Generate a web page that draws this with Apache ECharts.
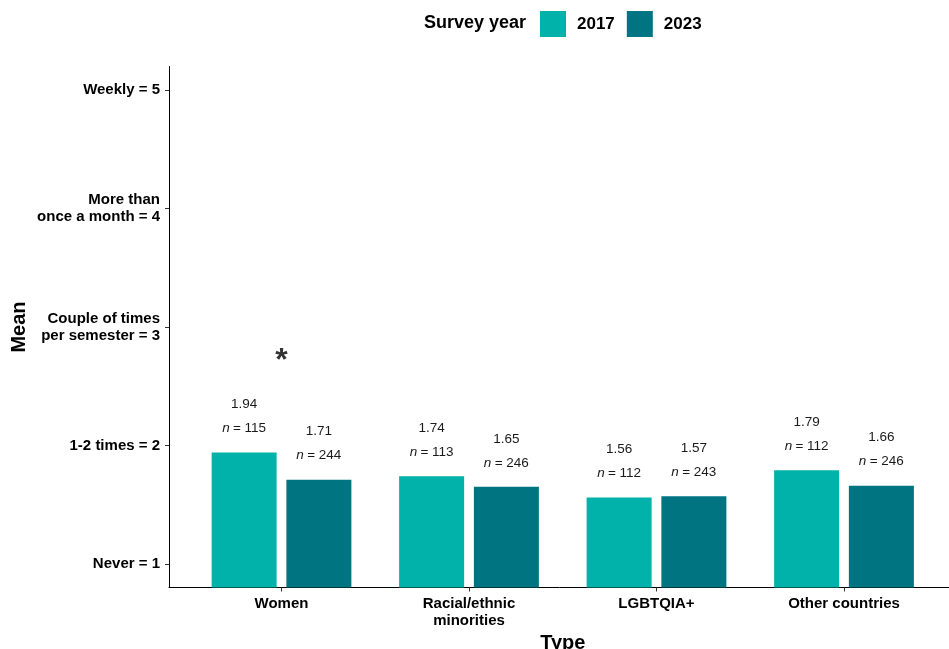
<!DOCTYPE html>
<html>
<head>
<meta charset="utf-8">
<script src="https://cdn.jsdelivr.net/npm/echarts@6/dist/echarts.min.js"></script>
<style>
  html, body { margin: 0; padding: 0; background: #fff; }
  #chart { width: 949px; height: 649px; }
</style>
</head>
<body>
<div id="chart"></div>
<script>
// Group categories along the x axis
const categories = ['Women', 'Racial/ethnic\nminorities', 'LGBTQIA+', 'Other countries'];
// Survey years shown in the legend
const years = ['2017', '2023'];
// Mean frequency per group
const means2017 = [1.94, 1.74, 1.56, 1.79];
const means2023 = [1.71, 1.65, 1.57, 1.66];
// Respondent counts per group
const counts2017 = [115, 113, 112, 112];
const counts2023 = [244, 246, 243, 246];
// Significance flags for the 2017 vs 2023 difference
const significance = ['*', '', '', ''];
// Y axis tick labels (response scale)
const yTickValues = [1, 2, 3, 4, 5];
const yTickLabels = ['Never = 1', '1-2 times = 2', 'Couple of times\nper semester = 3', 'More than\nonce a month = 4', 'Weekly = 5'];

const colors = ['#00B2A9', '#017482'];
const FONT = 'Liberation Sans, Arial, sans-serif';

function barSeries(name, means, counts, color) {
  const txt = { fontFamily: FONT, fontSize: 13.5, color: '#1a1a1a', lineHeight: 24 };
  return {
    name: name,
    type: 'bar',
    barWidth: 65,
    barGap: '15%',
    itemStyle: { color: color },
    data: means.map((v, i) => ({ value: [i, v], n: counts[i] })),
    label: {
      show: true,
      position: 'top',
      distance: 12,
      align: 'center',
      formatter: p => '{v|' + p.value[1].toFixed(2) + '}\n{i|n} {t|= ' + p.data.n + '}',
      rich: {
        v: txt,
        i: Object.assign({}, txt, { fontStyle: 'italic' }),
        t: txt
      }
    }
  };
}

// significance marker sits above the taller bar of each pair
const sigData = significance
  .map((s, i) => ({ s, i }))
  .filter(d => d.s)
  .map(d => ({ value: [d.i, Math.max(means2017[d.i], means2023[d.i]) + 0.77], mark: d.s }));

const chart = echarts.init(document.getElementById('chart'), null, { renderer: 'canvas' });
chart.setOption({
  animation: false,
  backgroundColor: '#fff',
  color: colors,
  textStyle: { fontFamily: FONT },
  title: {
    text: 'Survey year',
    left: 419,
    top: 9,
    textStyle: { fontFamily: FONT, fontSize: 18, fontWeight: 'bold', color: '#000' }
  },
  legend: {
    data: years,
    left: 535,
    top: 6,
    itemWidth: 26,
    itemHeight: 26,
    itemGap: 12,
    icon: 'rect',
    textStyle: { fontFamily: FONT, fontSize: 17, fontWeight: 'bold', color: '#000', padding: [0, 0, 0, 6] }
  },
  grid: { left: 169, right: -7.5, top: 66.5, bottom: 61.5, containLabel: false, outerBoundsMode: 'none' },
  xAxis: {
    type: 'value',
    min: -0.6,
    max: 3.6,
    name: 'Type',
    nameLocation: 'middle',
    nameGap: 46,
    nameMoveOverlap: false,
    nameTextStyle: { fontFamily: FONT, fontSize: 20, fontWeight: 'bold', color: '#000' },
    splitLine: { show: false },
    axisLine: { show: true, onZero: false, lineStyle: { color: '#000', width: 1 } },
    axisTick: { show: true, length: 4, customValues: [0, 1, 2, 3], lineStyle: { color: '#333' } },
    axisLabel: {
      customValues: [0, 1, 2, 3],
      formatter: v => categories[Math.round(v)],
      fontFamily: FONT, fontSize: 15, fontWeight: 'bold', color: '#000',
      margin: 8, lineHeight: 17
    }
  },
  yAxis: {
    type: 'value',
    min: 0.8,
    max: 5.2,
    name: 'Mean',
    nameLocation: 'middle',
    nameGap: 140,
    nameMoveOverlap: false,
    nameTextStyle: { fontFamily: FONT, fontSize: 20, fontWeight: 'bold', color: '#000' },
    splitLine: { show: false },
    axisLine: { show: true, onZero: false, lineStyle: { color: '#000', width: 1 } },
    axisTick: { show: true, length: 4, customValues: yTickValues, lineStyle: { color: '#333' } },
    axisLabel: {
      customValues: yTickValues,
      formatter: v => yTickLabels[yTickValues.indexOf(Math.round(v))],
      fontFamily: FONT, fontSize: 15, fontWeight: 'bold', color: '#000',
      margin: 9, lineHeight: 17, align: 'right'
    }
  },
  series: [
    barSeries(years[0], means2017, counts2017, colors[0]),
    barSeries(years[1], means2023, counts2023, colors[1]),
    {
      name: 'significance',
      type: 'scatter',
      symbolSize: 0,
      silent: true,
      data: sigData,
      label: {
        show: true,
        position: 'inside',
        formatter: p => p.data.mark,
        fontFamily: FONT, fontSize: 32, fontWeight: 'bold', color: '#000'
      }
    }
  ]
});
</script>
</body>
</html>
